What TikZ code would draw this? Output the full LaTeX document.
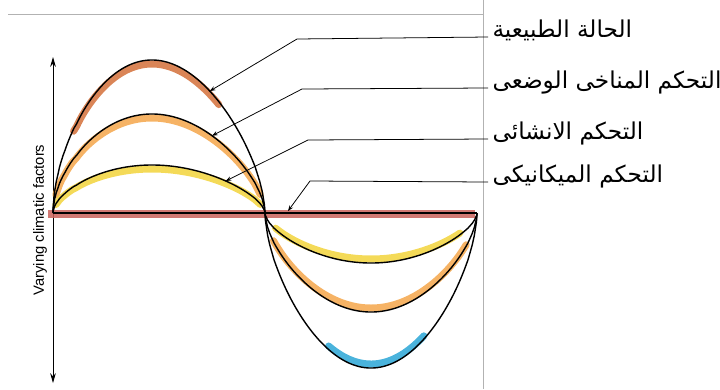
\documentclass[tikz,border=0pt]{standalone}
\usepackage{fontspec}
\setmainfont{Liberation Sans}
\newfontfamily\arabicfont[Script=Arabic]{DejaVu Sans}
\TeXXeTstate=1
\usetikzlibrary{arrows.meta}
\definecolor{baseRed}{HTML}{C9625A}
\definecolor{sienna}{HTML}{D4703A}
\definecolor{orangeHi}{HTML}{F4A64A}
\definecolor{yellowHi}{HTML}{F2D33B}
\definecolor{cyanHi}{HTML}{2AA6D6}

\begin{document}
\begin{tikzpicture}[x=0.025cm, y=-0.025cm,
  curve/.style={black, line width=1pt},
  hilite/.style={line width=5pt, opacity=0.85, line cap=round},
  lead/.style={black, line width=0.55pt, -{Stealth[length=4pt,width=3pt]}},
  lbl/.style={anchor=base west, inner xsep=3pt, inner ysep=0pt,
    font=\arabicfont\fontsize{16.5}{19}\selectfont}]
  \useasboundingbox (0,0) rectangle (720,389);
  % 扫描边框
  \draw[gray!60, line width=0.4pt] (8,14) -- (483,14);
  \draw[gray!60, line width=0.4pt] (483,0) -- (483,389);
  % 纵轴
  \draw[line width=0.6pt, {Stealth[length=7pt,width=4pt]}-{Stealth[length=7pt,width=4pt]}] (53,57) -- (53,383);
  \node[rotate=90, font=\fontsize{10.5}{12}\selectfont] (axis) at (40,220) {Varying climatic factors};
  % 彩色描边（上半）
  \draw[hilite, sienna] plot[domain=0.12:0.8, samples=60] ({53+212*pow(\x,1.1)}, {213-149*pow(sin(180*\x),0.6)});
  \draw[hilite, orangeHi] plot[domain=0.02:0.98, samples=80] ({53+212*pow(\x,1.1)}, {213-95*pow(sin(180*\x),0.6)});
  \draw[hilite, yellowHi] plot[domain=0.02:0.98, samples=80] ({53+212*pow(\x,1.1)}, {213-44*pow(sin(180*\x),0.6)});
  % 彩色描边（下半）
  \draw[hilite, yellowHi] plot[domain=0.05:0.92, samples=80] ({265+212*\x}, {213+46*pow(sin(180*\x),0.6)});
  \draw[hilite, orangeHi] plot[domain=0.04:0.95, samples=80] ({265+212*\x}, {213+95*pow(sin(180*\x),0.6)});
  \draw[hilite, cyanHi] plot[domain=0.3:0.75, samples=60] ({265+212*\x}, {213+151*pow(sin(180*\x),0.6)});
  % 基线
  \draw[baseRed, line width=5.5pt, opacity=0.85] (48,214) -- (475,214);
  \coordinate (O) at (53,213);
  \coordinate (M) at (265,213);
  \coordinate (E) at (477,213);
  \draw[black, line width=0.8pt] (O) -- (E);
  % 三条曲线
  \draw[curve] (O) -- plot[domain=0.002:0.998, samples=100] ({53+212*pow(\x,1.1)}, {213-153*pow(sin(180*\x),0.6)}) -- (M);
  \draw[curve] (O) -- plot[domain=0.002:0.998, samples=100] ({53+212*pow(\x,1.1)}, {213-99*pow(sin(180*\x),0.6)}) -- (M);
  \draw[curve] (O) -- plot[domain=0.002:0.998, samples=100] ({53+212*pow(\x,1.1)}, {213-48*pow(sin(180*\x),0.6)}) -- (M);
  \draw[curve] (M) -- plot[domain=0.002:0.998, samples=100] ({265+212*\x}, {213+155*pow(sin(180*\x),0.6)}) -- (E);
  \draw[curve] (M) -- plot[domain=0.002:0.998, samples=100] ({265+212*\x}, {213+99*pow(sin(180*\x),0.6)}) -- (E);
  \draw[curve] (M) -- plot[domain=0.002:0.998, samples=100] ({265+212*\x}, {213+50*pow(sin(180*\x),0.6)}) -- (E);
  % 标注
  \node[lbl] (natural) at (488,37) {\beginR الحالة الطبيعية\endR};
  \node[lbl] (passive) at (488,88) {\beginR التحكم المناخى الوضعى\endR};
  \node[lbl] (structural) at (488,139) {\beginR التحكم الانشائى\endR};
  \node[lbl] (mechanical) at (488,182) {\beginR التحكم الميكانيكى\endR};
  % 指引线
  \coordinate (K1) at (297,39);
  \coordinate (K2) at (302,89);
  \coordinate (K3) at (308,140);
  \coordinate (K4) at (310,181);
  \coordinate (T1) at ({53+212*pow(0.76,1.1)}, {213-153*pow(sin(180*0.76),0.6)});
  \coordinate (T2) at ({53+212*pow(0.77,1.1)}, {213-99*pow(sin(180*0.77),0.6)});
  \coordinate (T3) at ({53+212*pow(0.83,1.1)}, {213-48*pow(sin(180*0.83),0.6)});
  \coordinate (T4) at (288,211);
  \draw[lead] (natural.base west) -- (K1) -- (T1);
  \draw[lead] (passive.base west) -- (K2) -- (T2);
  \draw[lead] (structural.base west) -- (K3) -- (T3);
  \draw[lead] (mechanical.base west) -- (K4) -- (T4);
\end{tikzpicture}
\end{document}
